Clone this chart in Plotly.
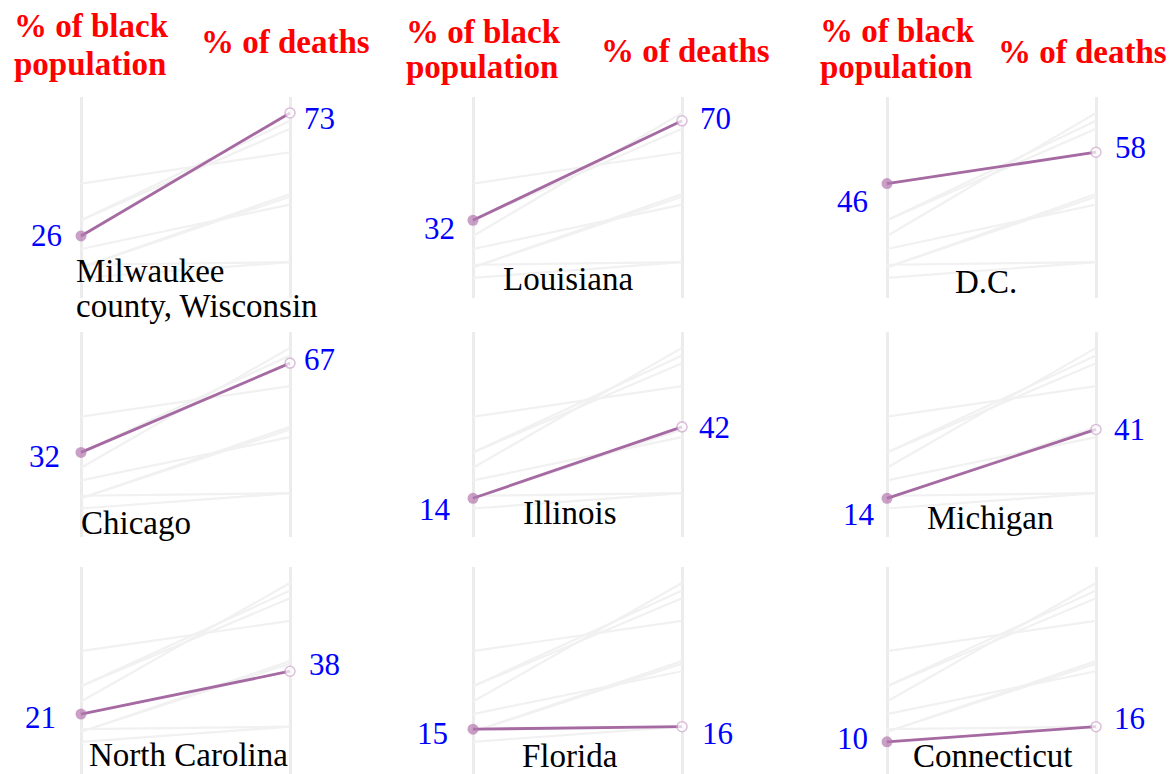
import plotly.graph_objects as go

# ---------------- data ----------------
places = ["Milwaukee\ncounty, Wisconsin", "Louisiana", "D.C.",
          "Chicago", "Illinois", "Michigan",
          "North Carolina", "Florida", "Connecticut"]
pct_black_population = [26, 32, 46, 32, 14, 14, 21, 15, 10]
pct_deaths = [73, 70, 58, 67, 42, 41, 38, 16, 16]
header_left = "% of black\npopulation"
header_right = "% of deaths"

# ---------------- layout / style ----------------
W, H = 1171, 774
col_left = [81, 473, 887]          # px of x=0 line in each column
slope_w = 209                       # px between x=0 and x=1
row_v0 = [304, 534, 767]            # px of value 0 in each row
row_k = [2.617, 2.55, 2.52]         # px per unit
y_top = 79.2
row_ybottom = [2.3, -1.2, -2.7]
x_pad = 0.1

SERIF = "Liberation Serif, Times New Roman, serif"
HL_LINE = "#a66aa3"
HL_FILL = "#b377af"
HL_OPEN = "#cfa9cf"
GRID = "#ececec"
GRAY = "#f1f1f1"

# label offsets (px) - styling only
left_gap = [17, 16, 17, 19, 20, 10, 23, 23, 17]
left_dy = [0, 8, 18, 4, 11, 16, 3, 4, -3]
right_gap = [12, 16, 17, 12, 15, 16, 17, 18, 16]
right_dy = [6, -2, -5, -4, 1, 0, -7, 7, -8]
name_dx = [-6, 95, 99, -1, 97, 103, 107, 97, 105]
name_anchor = ["left", "center", "center", "left", "center", "center", "center", "center", "center"]
name_baseline_dy = [-22, -14, -11, 0, -10, -5, -1, 0, 0]
name_line_gap = 35
hdr_left_dx = -68
hdr_left_base = [37, 43, 42]
hdr_left_line_gap = [38, 35, 36]
hdr_right_dx = [119, 127, 110]
hdr_right_base = [53, 62, 63]

NUM_SIZE = 31
NAME_SIZE = 33
HDR_SIZE = 33


def px2x(p):
    return min(1.0, max(0.0, p / W))


def px2y(p):
    return min(1.0, max(0.0, 1 - p / H))


fig = go.Figure()
annotations = []
layout_axes = {}

n = len(places)
for i in range(n):
    r, c = divmod(i, 3)
    idx = "" if i == 0 else str(i + 1)
    xa, ya = "x" + idx, "y" + idx
    # axes
    x0 = col_left[c] - x_pad * slope_w
    x1 = col_left[c] + (1 + x_pad) * slope_w
    ytop_px = row_v0[r] - y_top * row_k[r]
    ybot_px = row_v0[r] - row_ybottom[r] * row_k[r]
    layout_axes["xaxis" + idx] = dict(
        domain=[px2x(x0), px2x(x1)], range=[-x_pad, 1 + x_pad], anchor=ya,
        tickvals=[0, 1], showticklabels=False, showgrid=True,
        gridcolor=GRID, gridwidth=3, zeroline=False, showline=False, fixedrange=True)
    layout_axes["yaxis" + idx] = dict(
        domain=[px2y(ybot_px), px2y(ytop_px)], range=[row_ybottom[r], y_top], anchor=xa,
        showticklabels=False, showgrid=False, zeroline=False, showline=False, fixedrange=True)

    # background lines: all series in gray
    for j in range(n):
        fig.add_trace(go.Scatter(
            x=[0, 1], y=[pct_black_population[j], pct_deaths[j]],
            mode="lines", line=dict(color=GRAY, width=2.2),
            xaxis=xa, yaxis=ya, hoverinfo="skip", showlegend=False))
    # highlighted series
    fig.add_trace(go.Scatter(
        x=[0, 1], y=[pct_black_population[i], pct_deaths[i]],
        mode="lines+markers",
        line=dict(color=HL_LINE, width=2.8),
        marker=dict(size=[11, 10], color=[HL_FILL, "white"],
                    line=dict(color=[HL_FILL, HL_OPEN], width=[0, 1.6])),
        xaxis=xa, yaxis=ya, showlegend=False, cliponaxis=False,
        name=places[i].replace("\n", " ")))

    # value labels
    annotations.append(dict(
        x=0, y=pct_black_population[i], xref=xa, yref=ya,
        text=str(pct_black_population[i]), showarrow=False,
        xanchor="right", yanchor="middle",
        xshift=-left_gap[i], yshift=-left_dy[i],
        font=dict(family=SERIF, size=NUM_SIZE, color="#0000ff")))
    annotations.append(dict(
        x=1, y=pct_deaths[i], xref=xa, yref=ya,
        text=str(pct_deaths[i]), showarrow=False,
        xanchor="left", yanchor="middle",
        xshift=right_gap[i], yshift=-right_dy[i],
        font=dict(family=SERIF, size=NUM_SIZE, color="#0000ff")))

    # place name
    base = row_v0[r] + name_baseline_dy[i]
    for li, line in enumerate(places[i].split("\n")):
        bl = base + li * name_line_gap
        annotations.append(dict(
            x=px2x(col_left[c] + name_dx[i]), y=px2y(bl - 0.3375 * NAME_SIZE),
            xref="paper", yref="paper", text=line, showarrow=False,
            xanchor=name_anchor[i], yanchor="middle", borderpad=0,
            font=dict(family=SERIF, size=NAME_SIZE, color="black")))

    # headers on the top row
    if r == 0:
        for li, line in enumerate(header_left.split("\n")):
            bl = hdr_left_base[c] + li * hdr_left_line_gap[c]
            annotations.append(dict(
                x=px2x(col_left[c] + hdr_left_dx), y=px2y(bl - 0.3375 * HDR_SIZE),
                xref="paper", yref="paper", text="<b>" + line + "</b>",
                showarrow=False, xanchor="left", yanchor="middle", borderpad=0,
                font=dict(family=SERIF, size=HDR_SIZE, color="#ff0000")))
        annotations.append(dict(
            x=px2x(col_left[c] + hdr_right_dx[c]), y=px2y(hdr_right_base[c] - 0.3375 * HDR_SIZE),
            xref="paper", yref="paper", text="<b>" + header_right + "</b>",
            showarrow=False, xanchor="left", yanchor="middle", borderpad=0,
            font=dict(family=SERIF, size=HDR_SIZE, color="#ff0000")))

fig.update_layout(
    width=W, height=H, margin=dict(l=0, r=0, t=0, b=0),
    paper_bgcolor="white", plot_bgcolor="white",
    showlegend=False, annotations=annotations, **layout_axes)

fig.write_html("out.html", config={"displayModeBar": False},
               post_script="document.body.style.margin='0';")
